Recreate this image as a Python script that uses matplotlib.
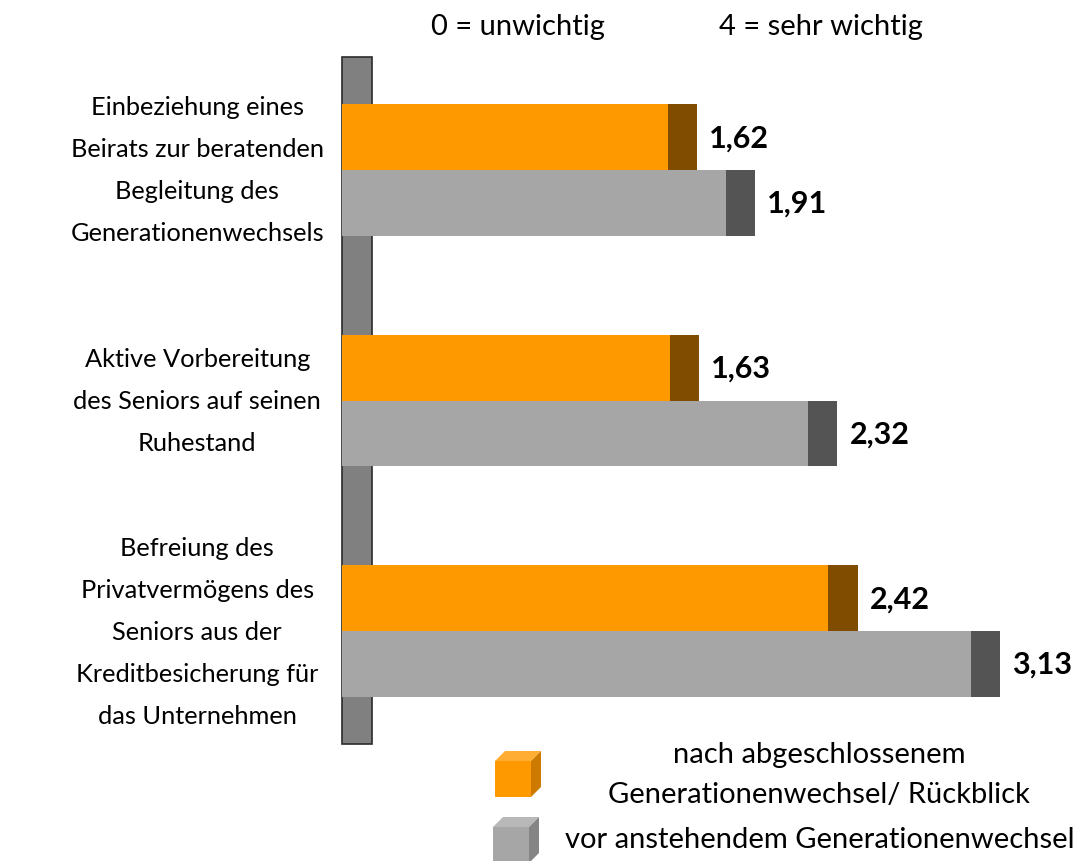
import matplotlib
matplotlib.use('Agg')
from matplotlib import pyplot as plt
from matplotlib.patches import Rectangle, Polygon
import numpy as np

plt.rcParams['font.family'] = ['Lato', 'DejaVu Sans']

categories = ['Einbeziehung eines\nBeirats zur beratenden\nBegleitung des\nGenerationenwechsels',
              'Aktive Vorbereitung\ndes Seniors auf seinen\nRuhestand',
              'Befreiung des\nPrivatvermögens des\nSeniors aus der\nKreditbesicherung für\ndas Unternehmen']
nach = [1.62, 1.63, 2.42]
vor = [1.91, 2.32, 3.13]
labels = ['nach abgeschlossenem\nGenerationenwechsel/ Rückblick',
          'vor anstehendem Generationenwechsel']

W, H = 1083, 862
fig = plt.figure(figsize=(W / 100, H / 100), dpi=100)
ax = fig.add_axes([342 / W, (H - 745) / H, (W - 342) / W, 687 / H])
ax.set_xlim(0, (W - 342) / 201)
ax.set_ylim(2.49, -0.49)
ax.axis('off')

y = np.arange(len(categories))
h = 0.285
cap = 0.145

# linke "Wand" des 3D-Diagramms
ax.add_patch(Rectangle((0, -0.49), 0.149, 2.98, facecolor='#808080',
                       edgecolor='#2b2b2b', lw=1.2, zorder=1, clip_on=False))

ax.barh(y - h / 2, nach, h, color='#ff9900', zorder=3)
ax.barh(y - h / 2, cap, h, left=nach, color='#7f4c00', zorder=3)
ax.barh(y + h / 2, vor, h, color='#a6a6a6', zorder=3)
ax.barh(y + h / 2, cap, h, left=vor, color='#545454', zorder=3)

for i in range(len(categories)):
    ax.text(nach[i] + cap + 0.06, y[i] - h / 2, f'{nach[i]:.2f}'.replace('.', ','),
            ha='left', va='center', fontsize=22, fontweight='bold')
    ax.text(vor[i] + cap + 0.06, y[i] + h / 2, f'{vor[i]:.2f}'.replace('.', ','),
            ha='left', va='center', fontsize=22, fontweight='bold')
    ax.text(-0.72, y[i], categories[i], ha='center', va='center', fontsize=18.3,
            linespacing=2.0, clip_on=False)

fig.text(518 / W, 1 - 27 / H, '0 = unwichtig', ha='center', va='center', fontsize=21)
fig.text(821 / W, 1 - 27 / H, '4 = sehr wichtig', ha='center', va='center', fontsize=21)


def cube(x0, y0, s, d, face, top, side):
    # kleine Würfel-Symbole der Legende (Pixelkoordinaten, y von oben)
    def p(px, py):
        return (px / W, 1 - py / H)
    fig.add_artist(Polygon([p(x0, y0 + d), p(x0 + s, y0 + d), p(x0 + s, y0 + d + s), p(x0, y0 + d + s)],
                           closed=True, facecolor=face, edgecolor='none', transform=fig.transFigure))
    fig.add_artist(Polygon([p(x0, y0 + d), p(x0 + d, y0), p(x0 + s + d, y0), p(x0 + s, y0 + d)],
                           closed=True, facecolor=top, edgecolor='none', transform=fig.transFigure))
    fig.add_artist(Polygon([p(x0 + s, y0 + d), p(x0 + s + d, y0), p(x0 + s + d, y0 + s), p(x0 + s, y0 + d + s)],
                           closed=True, facecolor=side, edgecolor='none', transform=fig.transFigure))


cube(495, 752, 36, 10, '#ff9900', '#ffad33', '#cc7a00')
cube(493, 818, 36, 10, '#a6a6a6', '#b8b8b8', '#858585')
fig.text(819 / W, 1 - 775 / H, labels[0], ha='center', va='center', fontsize=21, linespacing=1.62)
fig.text(820 / W, 1 - 840 / H, labels[1], ha='center', va='center', fontsize=21)

fig.savefig('out.png', dpi=100)
